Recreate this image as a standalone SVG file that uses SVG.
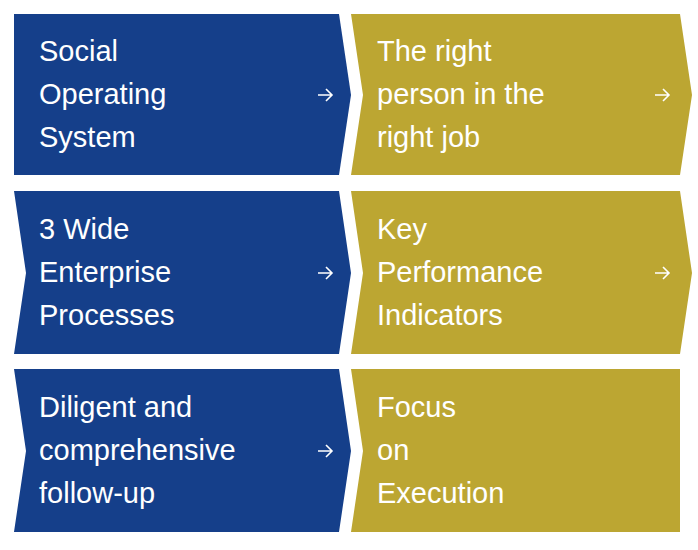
<svg xmlns="http://www.w3.org/2000/svg" width="698" height="550" viewBox="0 0 698 550">
<style>
.b{fill:#153f8a}.g{fill:#bca632}
text{font-family:"Liberation Sans",Arial,sans-serif;font-size:29px;fill:#fff}
.ar{stroke:#fff;stroke-width:1.6;fill:none}
</style>
<rect width="698" height="550" fill="#fff"/>
<g id="n1"><polygon class="b" points="14,14 339,14 351,95 339,175 14,175"/>
<text x="39" y="61">Social</text><text x="39" y="104">Operating</text><text x="39" y="147">System</text></g>
<g id="n2"><polygon class="g" points="351,14 680,14 692,95 680,175 351,175 363,95"/>
<text x="377" y="61">The right</text><text x="377" y="104">person in the</text><text x="377" y="147">right job</text></g>
<g id="n3"><polygon class="b" points="14,191 339,191 351,273 339,354 14,354 26,273"/>
<text x="39" y="239">3 Wide</text><text x="39" y="282">Enterprise</text><text x="39" y="325">Processes</text></g>
<g id="n4"><polygon class="g" points="351,191 680,191 692,273 680,354 351,354 363,273"/>
<text x="377" y="239">Key</text><text x="377" y="282">Performance</text><text x="377" y="325">Indicators</text></g>
<g id="n5"><polygon class="b" points="14,369 339,369 351,451 339,532 14,532 26,451"/>
<text x="39" y="417">Diligent and</text><text x="39" y="460">comprehensive</text><text x="39" y="503">follow-up</text></g>
<g id="n6"><polygon class="g" points="351,369 680,369 680,532 351,532 363,451"/>
<text x="377" y="417">Focus</text><text x="377" y="460">on</text><text x="377" y="503">Execution</text></g>
<g id="connectors">
<path class="ar" d="M318,95H332M326,89L332,95L326,101"/>
<path class="ar" d="M655,95H669M663,89L669,95L663,101"/>
<path class="ar" d="M318,273H332M326,267L332,273L326,279"/>
<path class="ar" d="M655,273H669M663,267L669,273L663,279"/>
<path class="ar" d="M318,451H332M326,445L332,451L326,457"/>
</g>
</svg>
